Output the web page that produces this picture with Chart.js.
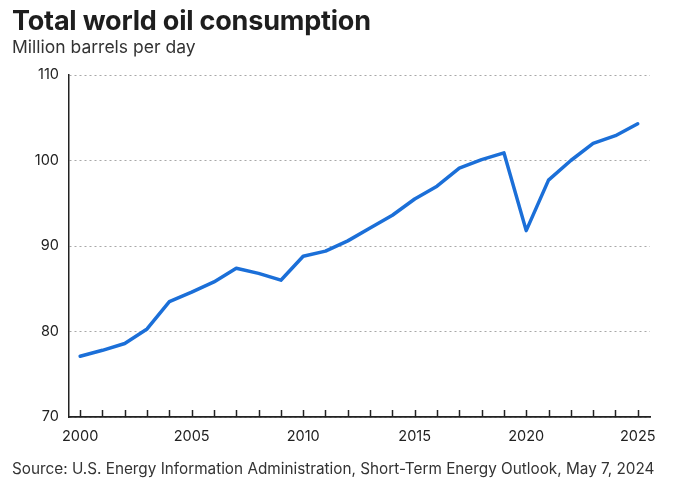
<!DOCTYPE html>
<html>
<head>
<meta charset="utf-8">
<script src="https://cdn.jsdelivr.net/npm/chart.js@4.4.1/dist/chart.umd.min.js"></script>
<style>
  html, body { margin: 0; padding: 0; background: #fff; }
  #wrap { position: relative; width: 673px; height: 491px; font-family: Inter, "Noto Sans", sans-serif; color: #1e1e1e; }
  #title { position: absolute; left: 12px; top: 4px; font-size: 27px; font-weight: 700; letter-spacing: -0.2px; }
  #subtitle { position: absolute; left: 12px; top: 36px; font-size: 17.5px; color: #333; }
  #source { position: absolute; left: 12px; top: 459px; font-size: 15.3px; color: #333; }
  canvas { position: absolute; left: 0; top: 0; }
</style>
</head>
<body>
<div id="wrap">
  <canvas id="oil" width="673" height="491"></canvas>
  <div id="title">Total world oil consumption</div>
  <div id="subtitle">Million barrels per day</div>
  <div id="source">Source: U.S. Energy Information Administration, Short-Term Energy Outlook, May 7, 2024</div>
</div>
<script>
// data
var years = [2000, 2001, 2002, 2003, 2004, 2005, 2006, 2007, 2008, 2009,
             2010, 2011, 2012, 2013, 2014, 2015, 2016, 2017, 2018, 2019,
             2020, 2021, 2022, 2023, 2024, 2025];
var consumption = [77.1, 77.8, 78.6, 80.3, 83.5, 84.6, 85.8, 87.4, 86.8, 86.0,
                   88.8, 89.4, 90.6, 92.1, 93.6, 95.5, 97.0, 99.1, 100.1, 100.9,
                   91.8, 97.7, 100.0, 102.0, 102.9, 104.3];
var yTicks = [70, 80, 90, 100, 110];
var xLabels = [2000, 2005, 2010, 2015, 2020, 2025];

var points = years.map(function(y, i) { return { x: y, y: consumption[i] }; });

// small tick marks pointing up from the x axis, one per year
var innerTicks = {
  id: 'innerTicks',
  afterDraw: function(chart) {
    var ctx = chart.ctx;
    var xs = chart.scales.x;
    var bottom = chart.chartArea.bottom;
    ctx.save();
    ctx.strokeStyle = '#222';
    ctx.lineWidth = 1.5;
    years.forEach(function(y) {
      var px = Math.round(xs.getPixelForValue(y)) + 0.5;
      ctx.beginPath();
      ctx.moveTo(px, bottom);
      ctx.lineTo(px, bottom - 7);
      ctx.stroke();
    });
    ctx.restore();
  }
};

Chart.defaults.font.family = 'Inter, "Noto Sans", sans-serif';
Chart.defaults.color = '#222';

new Chart(document.getElementById('oil').getContext('2d'), {
  type: 'line',
  data: {
    datasets: [{
      data: points,
      borderColor: '#1b6fd8',
      borderWidth: 3.5,
      pointRadius: 0,
      tension: 0,
      borderJoinStyle: 'round',
      borderCapStyle: 'round'
    }]
  },
  options: {
    responsive: false,
    animation: false,
    layout: { padding: { top: 75, right: 23, left: 0, bottom: 0 } },
    plugins: { legend: { display: false }, tooltip: { enabled: false } },
    scales: {
      x: {
        type: 'linear',
        min: 1999.5,
        max: 2025.55,
        afterBuildTicks: function(scale) {
          scale.ticks = xLabels.map(function(v) { return { value: v }; });
        },
        afterFit: function(scale) { scale.height = 74; },
        grid: { display: false, drawTicks: false },
        border: { display: true, color: '#222', width: 1.8 },
        ticks: {
          padding: 11,
          font: { size: 14.5 },
          maxRotation: 0,
          callback: function(v) { return String(v); }
        }
      },
      y: {
        min: 70,
        max: 110,
        afterBuildTicks: function(scale) {
          scale.ticks = yTicks.map(function(v) { return { value: v }; });
        },
        afterFit: function(scale) { scale.width = 69; },
        grid: {
          color: '#a8a8a8',
          lineWidth: 1,
          drawTicks: false
        },
        // in v4 border.dash sets the dash of the grid lines
        border: { display: true, color: '#222', width: 1.5, dash: [2, 3] },
        ticks: { padding: 10, font: { size: 14.5 } }
      }
    }
  },
  plugins: [innerTicks]
});
</script>
</body>
</html>
